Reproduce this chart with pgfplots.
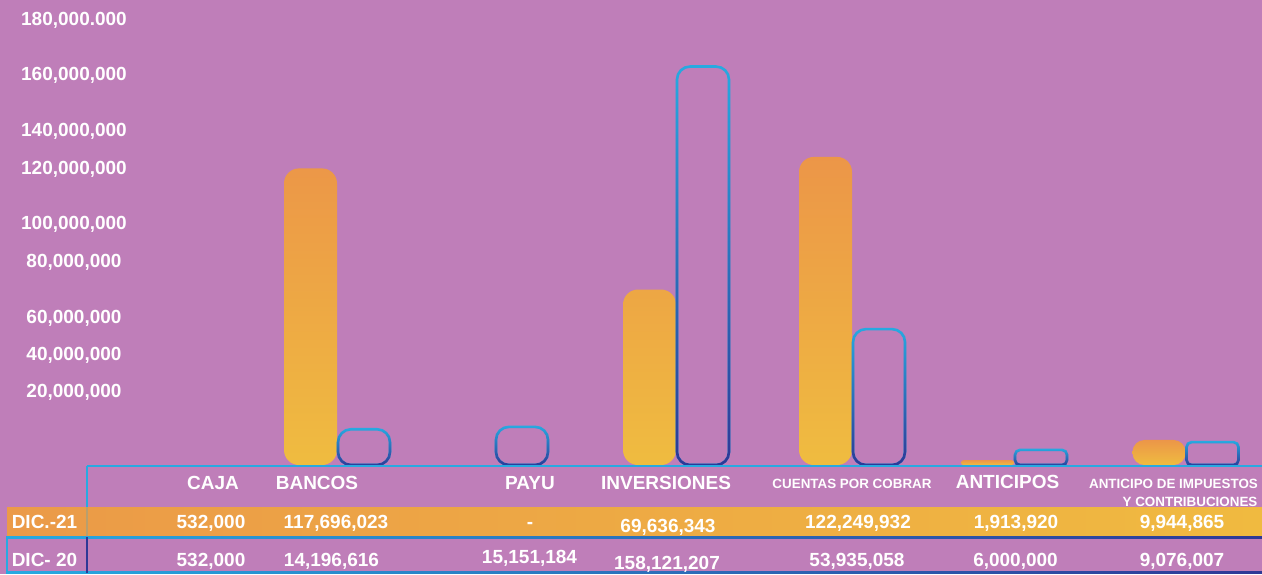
\documentclass[border=0pt]{standalone}
\usepackage{pgfplots}
\usepackage{pgfplotstable}
\pgfplotsset{compat=1.18}
\usepackage{fontspec}
\setmainfont{Liberation Sans}
\usetikzlibrary{fadings}
\definecolor{bg}{RGB}{191,126,185}
\definecolor{otop}{RGB}{236,150,72}
\definecolor{obot}{RGB}{239,188,64}
\definecolor{rowl}{RGB}{235,154,72}
\definecolor{rowr}{RGB}{240,186,64}
\definecolor{cyanb}{RGB}{39,170,225}
\definecolor{darkb}{RGB}{46,56,150}
\tikzfading[name=fadeup, top color=transparent!100, bottom color=transparent!0]
\pgfplotstableread{
x      dic21      dic20
337    117696023  14196616
495    nan        15151184
676    69636343   158121207
852    122249932  53935058
1014   1913920    6000000
1185.5 9944865    9076007
}\datatable
\newcommand{\bigf}{\fontsize{9.5}{11}\selectfont\bfseries}
\newcommand{\smallf}{\fontsize{6.7}{8}\selectfont\bfseries}
\begin{document}
\begin{tikzpicture}
\useasboundingbox (0,0) rectangle (631pt,287pt);
\fill[bg] (0,0) rectangle (631pt,287pt);
\begin{axis}[
  at={(0,0)}, anchor=south west, scale only axis,
  width=631pt, height=287pt,
  xmin=0, xmax=1262, ymin=-43.25e6, ymax=184.52e6,
  axis line style={draw=none},
  major tick length=0pt,
  xtick=\empty,
  ytick={28.97e6,43.44e6,58.13e6,80.35e6,95.53e6,117.45e6,132.33e6,154.56e6,176.58e6},
  yticklabels={{20,000,000},{40,000,000},{60,000,000},{80,000,000},{100,000,000},{120,000,000},{140,000,000},{160,000,000},{180,000.000}},
  yticklabel style={anchor=center, xshift=37pt, text=white, font=\bigf},
  scaled y ticks=false,
  ybar, bar width=26.5pt,
  clip=false,
  orangebar/.style={ybar, bar shift=-13.25pt, draw=none, top color=otop, bottom color=obot},
  bluebar/.style={ybar, bar shift=13.5pt, bar width=26pt, draw=cyanb, line width=1.3pt, fill=none, postaction={draw=darkb, line width=1.3pt, path fading=fadeup}},
]
% DIC.-21 bars
\addplot[orangebar, rounded corners=7.5pt, skip coords between index={4}{6}] table[x=x,y=dic21]{\datatable};
\addplot[orangebar, rounded corners=1.2pt, skip coords between index={0}{4}, skip coords between index={5}{6}] table[x=x,y=dic21]{\datatable};
\addplot[orangebar, rounded corners=6pt, skip coords between index={0}{5}] table[x=x,y=dic21]{\datatable};
% DIC- 20 bars, one plot each
\addplot[bluebar, rounded corners=6.5pt, skip coords between index={1}{6}] table[x=x,y=dic20]{\datatable};
\addplot[bluebar, rounded corners=6.5pt, skip coords between index={0}{1}, skip coords between index={2}{6}] table[x=x,y=dic20]{\datatable};
\addplot[bluebar, rounded corners=6.5pt, skip coords between index={0}{2}, skip coords between index={3}{6}] table[x=x,y=dic20]{\datatable};
\addplot[bluebar, rounded corners=6.5pt, skip coords between index={0}{3}, skip coords between index={4}{6}] table[x=x,y=dic20]{\datatable};
\addplot[bluebar, rounded corners=2.5pt, skip coords between index={0}{4}, skip coords between index={5}{6}] table[x=x,y=dic20]{\datatable};
\addplot[bluebar, rounded corners=2.5pt, skip coords between index={0}{5}] table[x=x,y=dic20]{\datatable};
\end{axis}
\begin{scope}[x=0.5pt, y=-0.5pt, yshift=287pt]
  % header text
  \node[anchor=base, text=white, font=\bigf] at (213,489) {CAJA};
  \node[anchor=base, text=white, font=\bigf] at (317,489) {BANCOS};
  \node[anchor=base, text=white, font=\bigf] at (530,489) {PAYU};
  \node[anchor=base, text=white, font=\bigf] at (666,489) {INVERSIONES};
  \node[anchor=base, text=white, font=\smallf] at (852,488) {CUENTAS POR COBRAR};
  \node[anchor=base, text=white, font=\bigf] at (1007.5,488) {ANTICIPOS};
  \node[anchor=base, text=white, font=\smallf] at (1173.5,488) {ANTICIPO DE IMPUESTOS};
  \node[anchor=base, text=white, font=\smallf] at (1190,506) {Y CONTRIBUCIONES};
  % lines
  \fill[cyanb] (87,465) rectangle (1262,467);
  \fill[cyanb] (86,466) rectangle (88,537);
  % orange row
  \shade[left color=rowl, right color=rowr] (7,507) rectangle (1262,537);
  \fill[cyanb, opacity=0.25] (86,507) rectangle (88,537);
  \shade[left color=cyanb, right color=darkb] (6,536) rectangle (1262,538);
  \shade[left color=cyanb, right color=darkb] (6,571) rectangle (1262,573);
  \fill[cyanb] (6,537) rectangle (8,573);
  \fill[darkb] (86,537) rectangle (88,573);
  % row labels
  \node[anchor=base, text=white, font=\bigf] at (44.5,528) {DIC.-21};
  \node[anchor=base, text=white, font=\bigf] at (44.5,566) {DIC- 20};
  % DIC.-21 values
  \node[anchor=base, text=white, font=\bigf] at (211,528) {532,000};
  \node[anchor=base, text=white, font=\bigf] at (336,528) {117,696,023};
  \node[anchor=base, text=white, font=\bigf] at (530,528) {-};
  \node[anchor=base, text=white, font=\bigf] at (668,532) {69,636,343};
  \node[anchor=base, text=white, font=\bigf] at (858,528) {122,249,932};
  \node[anchor=base, text=white, font=\bigf] at (1016,528) {1,913,920};
  \node[anchor=base, text=white, font=\bigf] at (1182,528) {9,944,865};
  % DIC- 20 values
  \node[anchor=base, text=white, font=\bigf] at (211,566) {532,000};
  \node[anchor=base, text=white, font=\bigf] at (331.5,566) {14,196,616};
  \node[anchor=base, text=white, font=\bigf] at (529.5,563) {15,151,184};
  \node[anchor=base, text=white, font=\bigf] at (667,569) {158,121,207};
  \node[anchor=base, text=white, font=\bigf] at (857,566) {53,935,058};
  \node[anchor=base, text=white, font=\bigf] at (1015.5,566) {6,000,000};
  \node[anchor=base, text=white, font=\bigf] at (1182,566) {9,076,007};
\end{scope}
\end{tikzpicture}
\end{document}
